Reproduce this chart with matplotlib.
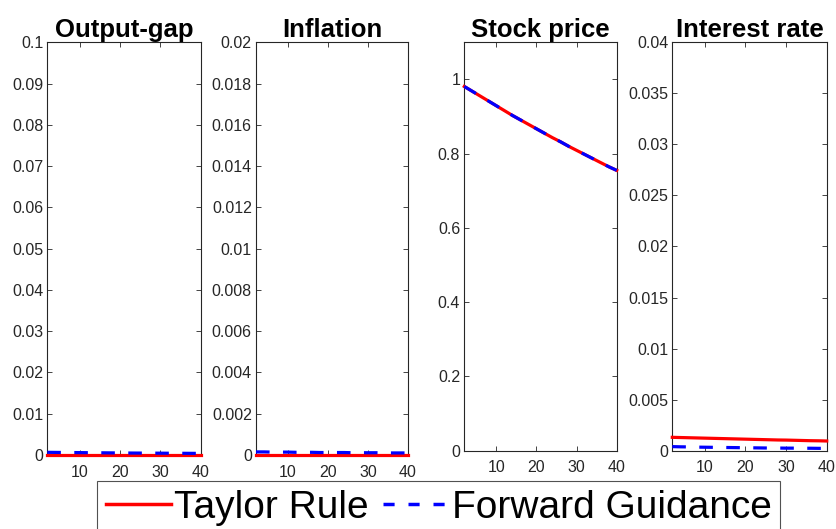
import matplotlib
matplotlib.use("Agg")
import matplotlib.pyplot as plt
from matplotlib.lines import Line2D

# ---------------- data ----------------
periods = [2, 4, 6, 8, 10, 12, 14, 16, 18, 20, 22, 24, 26, 28, 30, 32, 34, 36, 38, 40]

titles = ["Output-gap", "Inflation", "Stock price", "Interest rate"]

output_taylor = [0.0001] * 20
output_fg = [0.00065, 0.00063, 0.00061, 0.00059, 0.00058, 0.00056, 0.00054, 0.00053, 0.00051, 0.00050,
             0.00048, 0.00047, 0.00046, 0.00045, 0.00044, 0.00043, 0.00042, 0.00041, 0.00040, 0.00039]

infl_taylor = [0.00002] * 20
infl_fg = [0.00015, 0.00015, 0.00014, 0.00014, 0.00014, 0.00013, 0.00013, 0.00013, 0.00012, 0.00012,
           0.00012, 0.00012, 0.00011, 0.00011, 0.00011, 0.00011, 0.00010, 0.00010, 0.00010, 0.00010]

stock_taylor = [0.981, 0.968, 0.955, 0.942, 0.929, 0.916, 0.903, 0.891, 0.879, 0.867,
                0.855, 0.843, 0.832, 0.820, 0.809, 0.798, 0.787, 0.776, 0.765, 0.755]
stock_fg = [0.981, 0.968, 0.955, 0.942, 0.929, 0.916, 0.903, 0.891, 0.879, 0.867,
            0.855, 0.843, 0.832, 0.820, 0.809, 0.798, 0.787, 0.776, 0.765, 0.755]

rate_taylor = [0.00131, 0.00129, 0.00127, 0.00125, 0.00123, 0.00121, 0.00119, 0.00117, 0.00115, 0.00113,
               0.00111, 0.00109, 0.00107, 0.00105, 0.00104, 0.00102, 0.00100, 0.00098, 0.00097, 0.00095]
rate_fg = [0.00040, 0.00038, 0.00037, 0.00035, 0.00034, 0.00033, 0.00032, 0.00031, 0.00030, 0.00029,
           0.00028, 0.00027, 0.00026, 0.00026, 0.00025, 0.00025, 0.00024, 0.00024, 0.00023, 0.00023]

taylor_series = [output_taylor, infl_taylor, stock_taylor, rate_taylor]
fg_series = [output_fg, infl_fg, stock_fg, rate_fg]

ylims = [(0, 0.1), (0, 0.02), (0, 1.1), (0, 0.04)]
yticks = [
    [0, 0.01, 0.02, 0.03, 0.04, 0.05, 0.06, 0.07, 0.08, 0.09, 0.1],
    [0, 0.002, 0.004, 0.006, 0.008, 0.01, 0.012, 0.014, 0.016, 0.018, 0.02],
    [0, 0.2, 0.4, 0.6, 0.8, 1],
    [0, 0.005, 0.01, 0.015, 0.02, 0.025, 0.03, 0.035, 0.04],
]
ytick_labels = [
    ["0", "0.01", "0.02", "0.03", "0.04", "0.05", "0.06", "0.07", "0.08", "0.09", "0.1"],
    ["0", "0.002", "0.004", "0.006", "0.008", "0.01", "0.012", "0.014", "0.016", "0.018", "0.02"],
    ["0", "0.2", "0.4", "0.6", "0.8", "1"],
    ["0", "0.005", "0.01", "0.015", "0.02", "0.025", "0.03", "0.035", "0.04"],
]
xticks = [10, 20, 30, 40]
xtick_labels = ["10", "20", "30", "40"]
legend_labels = ["Taylor Rule", "Forward Guidance"]

# ---------------- layout ----------------
W, H = 836, 529
fig = plt.figure(figsize=(W / 100, H / 100), dpi=100)

boxes = [  # left, top, right, bottom in pixels
    (47.3, 42.3, 200.7, 455.0),
    (256.0, 42.3, 408.0, 455.0),
    (464.3, 42.3, 616.7, 450.7),
    (672.3, 42.3, 826.7, 450.7),
]

axcol = (0.15, 0.15, 0.15)
regular = ["Liberation Sans", "DejaVu Sans"]
dash = (0, (4.25, 4.2))

for i in range(4):
    l, t, r, b = boxes[i]
    ax = fig.add_axes([l / W, 1 - b / H, (r - l) / W, (b - t) / H])
    ax.plot(periods, taylor_series[i], color=(1, 0, 0), lw=2.3, clip_on=False, zorder=3)
    ax.plot(periods, fg_series[i], color=(0, 0, 1), lw=2.3, linestyle=dash, clip_on=False, zorder=4)
    ax.set_xlim(2, 40)
    ax.set_ylim(*ylims[i])
    ax.set_xticks(xticks)
    ax.set_xticklabels(xtick_labels, family=regular, fontsize=11.5, color=axcol)
    ax.set_yticks(yticks[i])
    ax.set_yticklabels(ytick_labels[i], family=regular, fontsize=11.5, color=axcol)
    ax.tick_params(direction="in", length=3.5, width=0.6, color=axcol,
                   top=True, right=True)
    ax.tick_params(axis="y", pad=3)
    ax.tick_params(axis="x", pad=7)
    for s in ax.spines.values():
        s.set_color(axcol)
        s.set_linewidth(0.8)
    ax.set_title(titles[i], family=regular, fontweight="bold", fontsize=18.5, pad=4, color="black")

handles = [
    Line2D([], [], color=(1, 0, 0), lw=2.5),
    Line2D([], [], color=(0, 0, 1), lw=2.5, linestyle=(0, (3.2, 4.0))),
]
leg = fig.legend(handles, legend_labels, loc="upper left",
                 bbox_to_anchor=(97 / W, 1 - 481 / H), ncol=2, frameon=True,
                 fancybox=False, borderaxespad=0, borderpad=0.22,
                 handlelength=1.67, handletextpad=0.1, columnspacing=0.36,
                 prop={"family": regular, "size": 28})
leg.get_frame().set_edgecolor(axcol)
leg.get_frame().set_linewidth(0.8)

fig.savefig("out.png", dpi=100)
